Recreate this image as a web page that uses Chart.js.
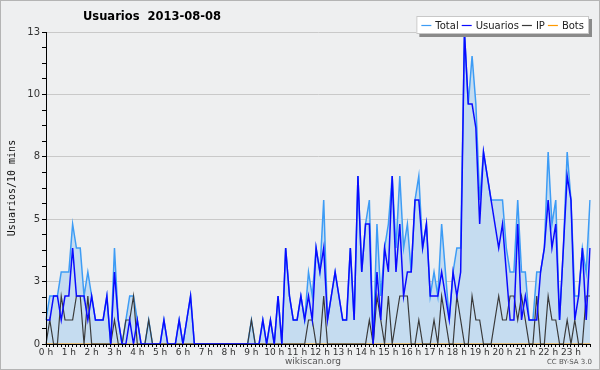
<!DOCTYPE html>
<html>
<head>
<meta charset="utf-8">
<script src="https://cdn.jsdelivr.net/npm/chart.js@4/dist/chart.umd.min.js"></script>
<style>
  html, body { margin: 0; padding: 0; background: #eeeff0; }
  #wrap { width: 600px; height: 370px; }
</style>
</head>
<body>
<div id="wrap"><canvas id="usersChart" width="600" height="370"></canvas></div>
<script>
// one point every 10 minutes, 2013-08-08
const times = [];
for (let h = 0; h < 24; h++) {
  for (let m = 0; m < 60; m += 10) {
    times.push(h + ":" + String(m).padStart(2, "0"));
  }
}

const hourLabels = ["0 h", "1 h", "2 h", "3 h", "4 h", "5 h", "6 h", "7 h", "8 h", "9 h", "10 h", "11 h",
  "12 h", "13 h", "14 h", "15 h", "16 h", "17 h", "18 h", "19 h", "20 h", "21 h", "22 h", "23 h"];

const yTickLabels = ["0", "3", "5", "8", "10", "13"];
const yMax = 13;

const total = [
  1, 2, 2, 2, 3, 3, 3, 5, 4, 4, 2, 3, 2, 1, 1, 1, 2, 0, 4, 1,
  0, 1, 2, 2, 1, 0, 0, 1, 0, 0, 0, 1, 0, 0, 0, 1, 0, 1, 2, 0,
  0, 0, 0, 0, 0, 0, 0, 0, 0, 0, 0, 0, 0, 0, 1, 0, 0, 1, 0, 1,
  0, 2, 0, 4, 2, 1, 1, 2, 1, 3, 2, 4, 3, 6, 1, 2, 3, 2, 1, 1,
  4, 1, 7, 3, 5, 6, 0, 5, 2, 4, 5, 7, 4, 7, 4, 5, 3, 6, 7, 4,
  5, 2, 3, 2, 5, 3, 1, 3, 4, 4, 13, 10, 12, 10, 6, 8, 7, 6, 6, 6,
  6, 4, 3, 3, 6, 3, 3, 1, 1, 3, 3, 4, 8, 5, 6, 1, 4, 8, 6, 2,
  2, 4, 3, 6
];

const usuarios = [
  1, 1, 2, 2, 1, 2, 2, 4, 2, 2, 2, 1, 2, 1, 1, 1, 2, 0, 3, 1,
  0, 0, 1, 0, 1, 0, 0, 0, 0, 0, 0, 1, 0, 0, 0, 1, 0, 1, 2, 0,
  0, 0, 0, 0, 0, 0, 0, 0, 0, 0, 0, 0, 0, 0, 0, 0, 0, 1, 0, 1,
  0, 2, 0, 4, 2, 1, 1, 2, 1, 2, 1, 4, 3, 4, 1, 2, 3, 2, 1, 1,
  4, 1, 7, 3, 5, 5, 0, 3, 1, 4, 3, 7, 3, 5, 2, 3, 3, 6, 6, 4,
  5, 2, 2, 2, 3, 2, 1, 3, 2, 3, 13, 10, 10, 9, 5, 8, 7, 6, 5, 4,
  5, 3, 1, 1, 5, 1, 2, 1, 1, 1, 3, 4, 6, 4, 5, 1, 4, 7, 6, 1,
  2, 4, 1, 4
];

const ip = [
  0, 1, 0, 0, 2, 1, 1, 1, 2, 2, 0, 2, 0, 0, 0, 0, 0, 0, 1, 0,
  0, 1, 1, 2, 0, 0, 0, 1, 0, 0, 0, 0, 0, 0, 0, 0, 0, 0, 0, 0,
  0, 0, 0, 0, 0, 0, 0, 0, 0, 0, 0, 0, 0, 0, 1, 0, 0, 0, 0, 0,
  0, 0, 0, 0, 0, 0, 0, 0, 0, 1, 1, 0, 0, 2, 0, 0, 0, 0, 0, 0,
  0, 0, 0, 0, 0, 1, 0, 2, 1, 0, 2, 0, 1, 2, 2, 2, 0, 0, 1, 0,
  0, 0, 1, 0, 2, 1, 0, 0, 2, 1, 0, 0, 2, 1, 1, 0, 0, 0, 1, 2,
  1, 1, 2, 2, 1, 2, 1, 0, 0, 2, 0, 0, 2, 1, 1, 0, 0, 1, 0, 1,
  0, 0, 2, 2
];

const bots = [
  0, 0, 0, 0, 0, 0, 0, 0, 0, 0, 0, 0, 0, 0, 0, 0, 0, 0, 0, 0,
  0, 0, 0, 0, 0, 0, 0, 0, 0, 0, 0, 0, 0, 0, 0, 0, 0, 0, 0, 0,
  0, 0, 0, 0, 0, 0, 0, 0, 0, 0, 0, 0, 0, 0, 0, 0, 0, 0, 0, 0,
  0, 0, 0, 0, 0, 0, 0, 0, 0, 0, 0, 0, 0, 0, 0, 0, 0, 0, 0, 0,
  0, 0, 0, 0, 0, 0, 0, 0, 0, 0, 0, 0, 0, 0, 0, 0, 0, 0, 0, 0,
  0, 0, 0, 0, 0, 0, 0, 0, 0, 0, 0, 0, 0, 0, 0, 0, 0, 0, 0, 0,
  0, 0, 0, 0, 0, 0, 0, 0, 0, 0, 0, 0, 0, 0, 0, 0, 0, 0, 0, 0,
  0, 0, 0, 0
];

// background, axis lines on top, title, legend and footer
const decorPlugin = {
  id: "decor",
  beforeDraw(chart) {
    const ctx = chart.ctx;
    ctx.save();
    ctx.fillStyle = "#eeeff0";
    ctx.fillRect(0, 0, chart.width, chart.height);
    ctx.strokeStyle = "#b4b4b4";
    ctx.lineWidth = 1;
    ctx.strokeRect(0.5, 0.5, chart.width - 1, chart.height - 1);
    ctx.restore();
  },
  afterDatasetsDraw(chart) {
    const ctx = chart.ctx;
    const a = chart.chartArea;
    const l = Math.round(a.left) + 0.5;
    const b = Math.round(a.bottom) + 0.5;
    ctx.save();
    ctx.strokeStyle = "#000";
    ctx.lineWidth = 1;
    ctx.beginPath();
    ctx.moveTo(l, a.top);
    ctx.lineTo(l, b);
    ctx.lineTo(a.right, b);
    ctx.stroke();
    ctx.restore();
  },
  afterDraw(chart) {
    const ctx = chart.ctx;
    ctx.save();

    // title
    ctx.fillStyle = "#000";
    ctx.font = "bold 11.5px 'DejaVu Sans'";
    ctx.textBaseline = "middle";
    ctx.textAlign = "left";
    ctx.fillText("Usuarios  2013-08-08", 83, 17);

    // y axis title
    ctx.save();
    ctx.translate(12, 188);
    ctx.rotate(-Math.PI / 2);
    ctx.font = "10px 'DejaVu Sans Mono'";
    ctx.textAlign = "center";
    ctx.fillStyle = "#111";
    ctx.fillText("Usuarios/10 mins", 0, 0);
    ctx.restore();

    // legend box
    const sets = chart.data.datasets;
    ctx.font = "10px 'DejaVu Sans'";
    const lineLen = 10;
    let w = 7;
    sets.forEach((ds) => {
      w += lineLen + 4 + ctx.measureText(ds.label).width + 3;
    });
    const bx = 589 - w;
    const by = 16;
    const bh = 18;
    ctx.fillStyle = "#8a8a8a";
    ctx.fillRect(bx + 3, by + 3, w, bh);
    ctx.fillStyle = "#fff";
    ctx.fillRect(bx, by, w, bh);
    ctx.strokeStyle = "#c8c8c8";
    ctx.strokeRect(bx + 0.5, by + 0.5, w - 1, bh - 1);
    let x = bx + 5;
    const cy = by + bh / 2;
    sets.forEach((ds) => {
      ctx.strokeStyle = ds.borderColor;
      ctx.lineWidth = 1.2;
      ctx.beginPath();
      ctx.moveTo(x, cy + 0.5);
      ctx.lineTo(x + lineLen, cy + 0.5);
      ctx.stroke();
      x += lineLen + 4;
      ctx.fillStyle = "#222";
      ctx.textAlign = "left";
      ctx.fillText(ds.label, x, cy + 1);
      x += ctx.measureText(ds.label).width + 3;
    });

    // footer
    ctx.fillStyle = "#555";
    ctx.font = "9px 'DejaVu Sans'";
    ctx.textAlign = "center";
    ctx.fillText("wikiscan.org", 313, 362);
    ctx.font = "7px 'DejaVu Sans'";
    ctx.textAlign = "right";
    ctx.fillText("CC BY-SA 3.0", 592, 362);
    ctx.restore();
  }
};

const ctx = document.getElementById("usersChart").getContext("2d");

const chart = new Chart(ctx, {
  type: "line",
  data: {
    labels: times,
    datasets: [
      {
        label: "Total",
        data: total,
        borderColor: "#3d9cf5",
        backgroundColor: "#c5dcf0",
        fill: "origin",
        borderWidth: 1.5,
        order: 3
      },
      {
        label: "Usuarios",
        data: usuarios,
        borderColor: "#0a0aff",
        borderWidth: 1.5,
        fill: false,
        order: 0
      },
      {
        label: "IP",
        data: ip,
        borderColor: "#3a3a3a",
        borderWidth: 1.2,
        fill: false,
        order: 1
      },
      {
        label: "Bots",
        data: bots,
        borderColor: "#ff9a00",
        borderWidth: 1.2,
        fill: false,
        order: 2
      }
    ]
  },
  options: {
    responsive: false,
    animation: false,
    elements: {
      point: { radius: 0, hoverRadius: 0 },
      line: { tension: 0 }
    },
    layout: {
      padding: { top: 32, right: 10, bottom: 14, left: 0 }
    },
    plugins: {
      legend: { display: false },
      title: { display: false },
      tooltip: { enabled: false }
    },
    scales: {
      x: {
        offset: false,
        afterFit: (scale) => { scale.height = 12; },
        border: { color: "#000" },
        grid: {
          drawOnChartArea: false,
          drawTicks: true,
          tickLength: 3,
          tickColor: "#000"
        },
        ticks: {
          autoSkip: false,
          maxRotation: 0,
          minRotation: 0,
          padding: 0,
          color: "#333",
          font: { family: "'DejaVu Sans'", size: 9 },
          callback: (value, index) => (index % 6 === 0 ? hourLabels[index / 6] : "")
        }
      },
      y: {
        min: 0,
        max: yMax,
        afterFit: (scale) => { scale.width = 46; },
        afterBuildTicks: (scale) => {
          const ticks = [];
          for (let k = 0; k <= 20; k++) ticks.push({ value: (yMax * k) / 20 });
          scale.ticks = ticks;
        },
        border: { color: "#000" },
        grid: {
          color: (c) => (c.index % 4 === 0 && c.index > 0 ? "#c9c9c9" : "rgba(0,0,0,0)"),
          tickColor: "#000",
          tickLength: 4,
          lineWidth: 1
        },
        ticks: {
          autoSkip: false,
          padding: 2,
          color: "#333",
          font: { family: "'DejaVu Sans'", size: 10 },
          callback: (value, index) => (index % 4 === 0 ? yTickLabels[index / 4] : "")
        }
      }
    }
  },
  plugins: [decorPlugin]
});
</script>
</body>
</html>
